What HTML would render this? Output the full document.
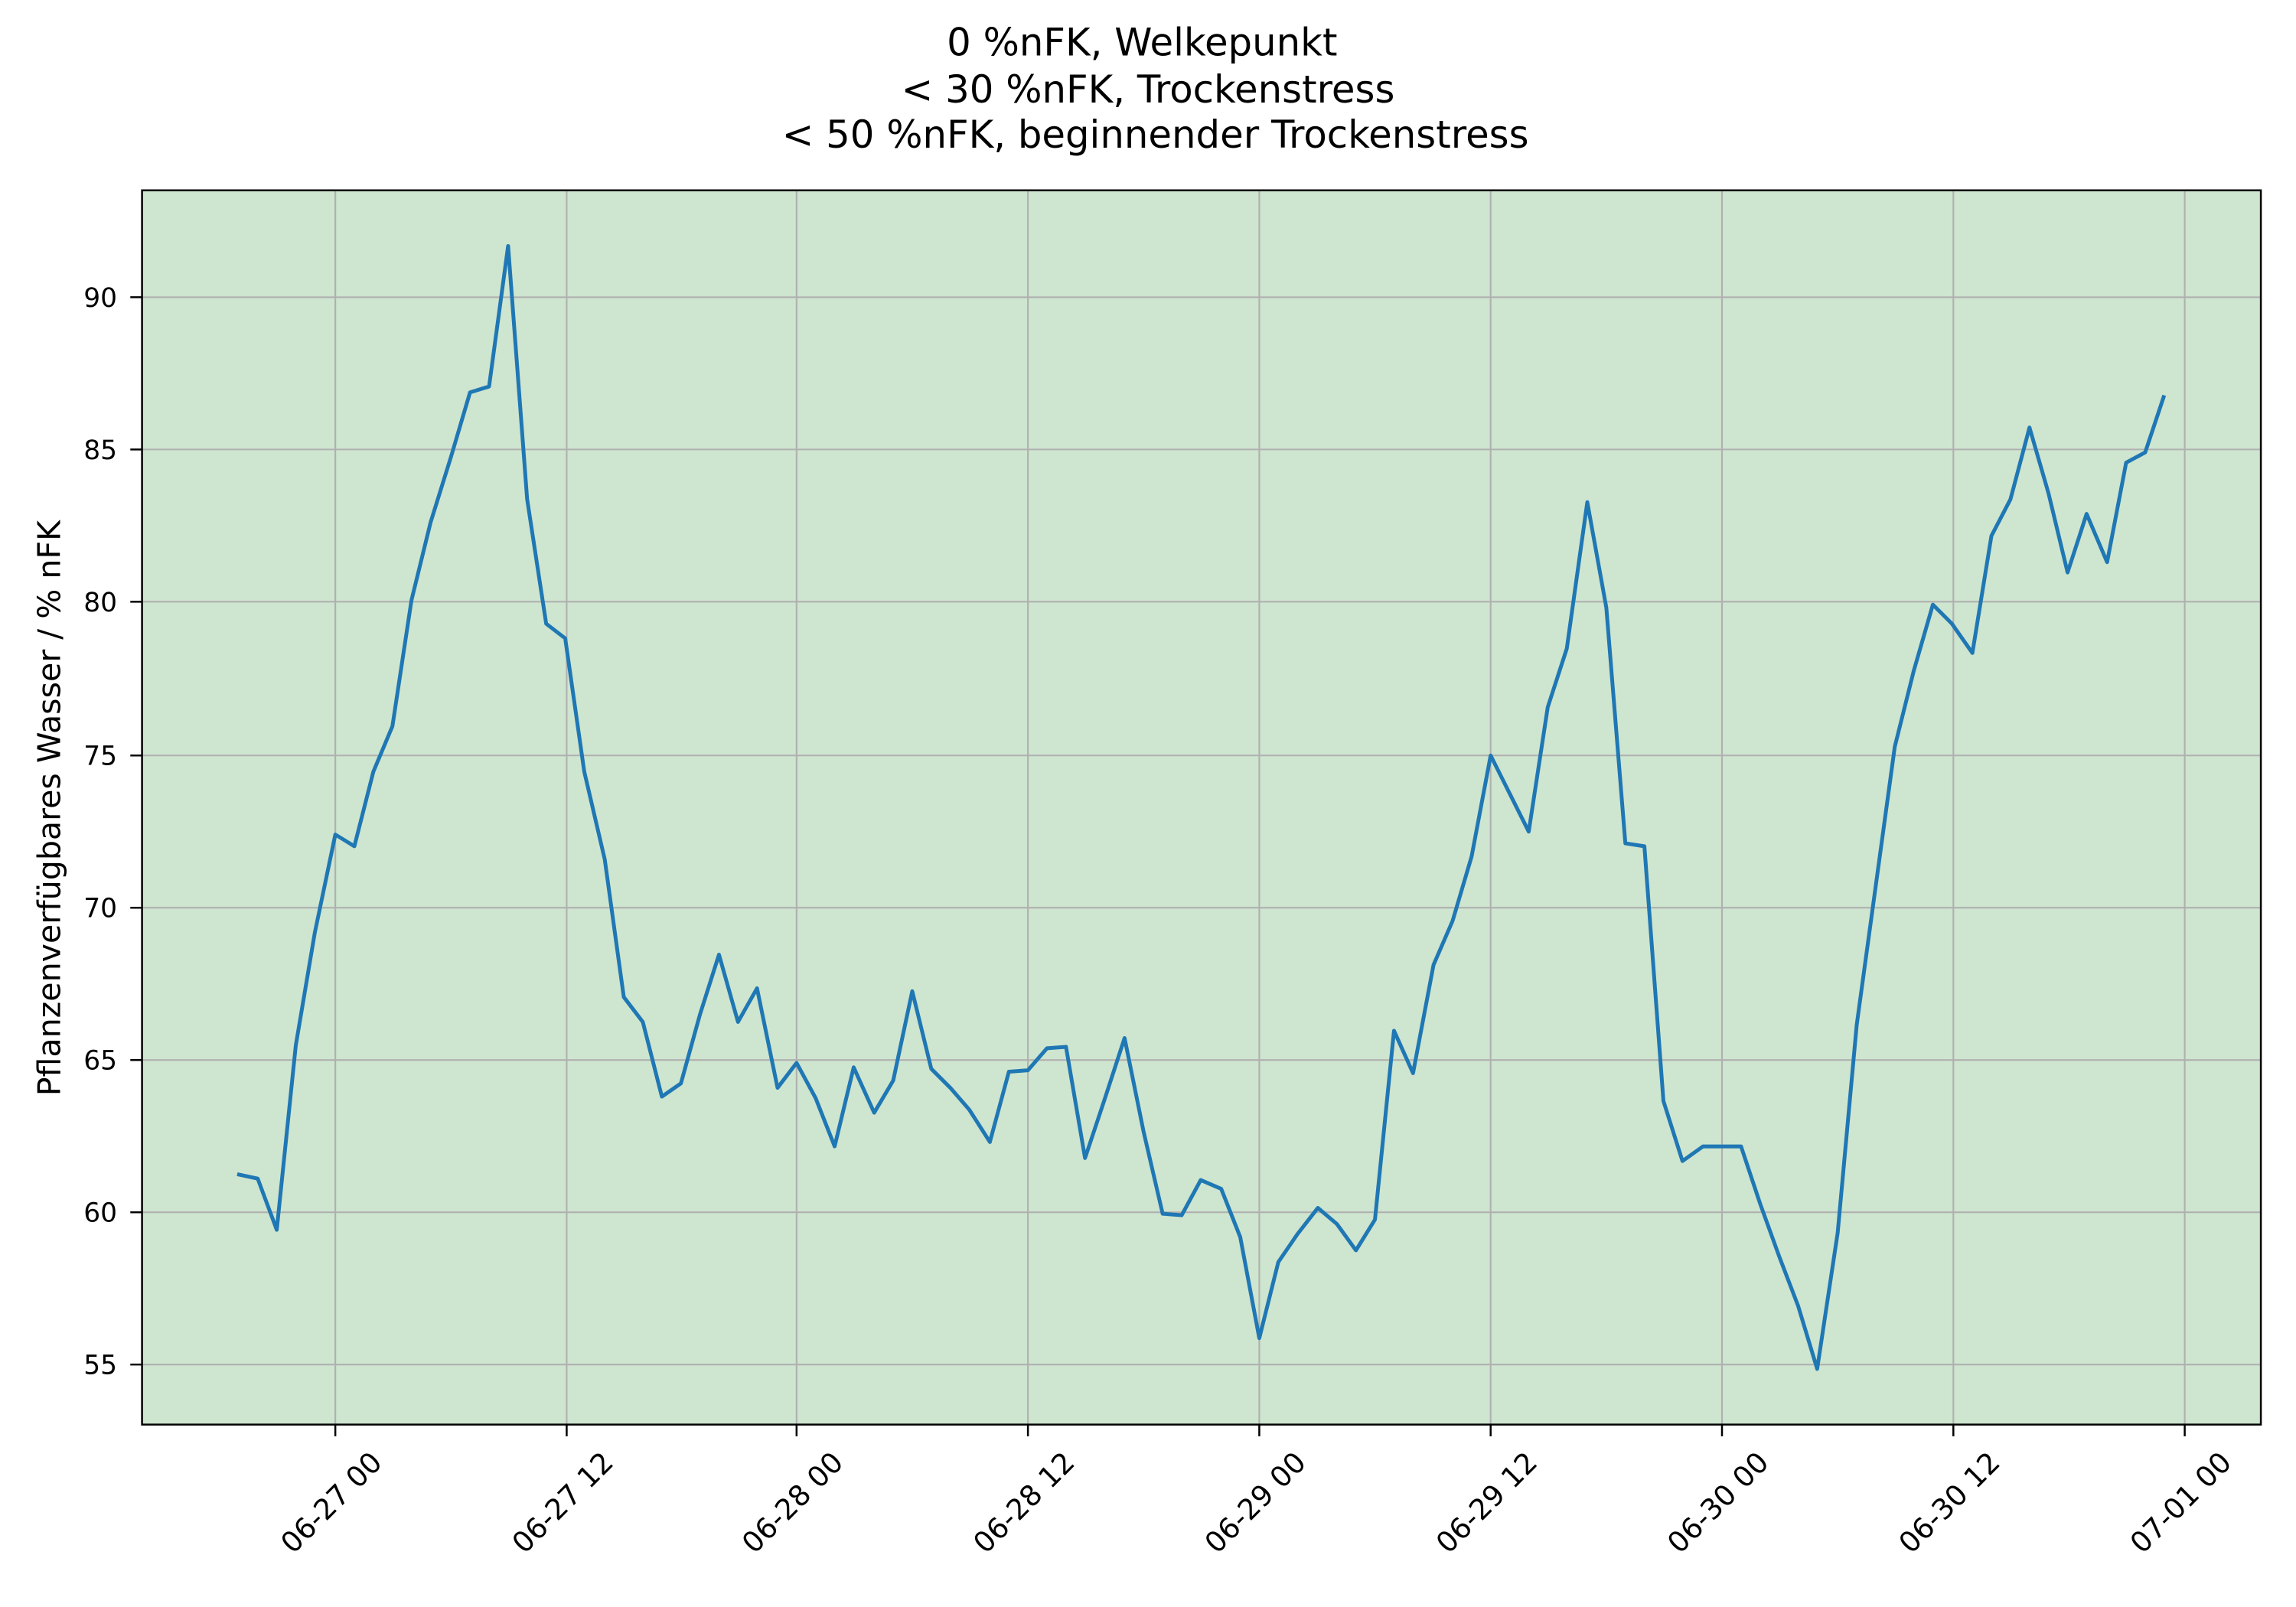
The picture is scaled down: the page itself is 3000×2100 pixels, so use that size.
<!DOCTYPE html>
<html><head><meta charset="utf-8"><style>
html,body{margin:0;padding:0;background:#fff}
svg{display:block}
text{font-family:"DejaVu Sans","Liberation Sans",sans-serif;fill:#000}
</style></head><body>
<svg width="3000" height="2100" viewBox="0 0 1568 1097.6" preserveAspectRatio="none" xmlns="http://www.w3.org/2000/svg">
<rect x="0" y="0" width="1568" height="1098" fill="#fff"/>
<rect x="97" y="130" width="1447" height="843" fill="#cee5cf"/>
<g stroke="#b0b0b0" stroke-width="1.1">
<line x1="229" y1="130" x2="229" y2="973"/><line x1="387" y1="130" x2="387" y2="973"/><line x1="544" y1="130" x2="544" y2="973"/><line x1="702" y1="130" x2="702" y2="973"/><line x1="860" y1="130" x2="860" y2="973"/><line x1="1018" y1="130" x2="1018" y2="973"/><line x1="1176" y1="130" x2="1176" y2="973"/><line x1="1334" y1="130" x2="1334" y2="973"/><line x1="1492" y1="130" x2="1492" y2="973"/>
<line x1="97" y1="203" x2="1544" y2="203"/><line x1="97" y1="307" x2="1544" y2="307"/><line x1="97" y1="411" x2="1544" y2="411"/><line x1="97" y1="516" x2="1544" y2="516"/><line x1="97" y1="620" x2="1544" y2="620"/><line x1="97" y1="724" x2="1544" y2="724"/><line x1="97" y1="828" x2="1544" y2="828"/><line x1="97" y1="932" x2="1544" y2="932"/>
</g>
<polyline fill="none" stroke="#1f77b4" stroke-width="2.6" stroke-linejoin="round" points="162,802 176,805 189,840 202,714 215,637 229,570 242,578 255,527 268,496 281,410 294,357 308,312 321,268 334,264 347,168 360,341 373,426 386,436 399,527 413,587 426,681 439,698 452,749 465,740 478,693 491,652 504,698 517,675 531,743 544,726 557,750 570,783 583,729 597,760 610,738 623,677 636,730 649,743 662,758 676,780 689,732 702,731 715,716 728,715 741,791 754,752 768,709 781,773 794,829 807,830 820,806 834,812 847,845 860,914 873,862 886,843 900,825 913,836 926,854 939,833 952,704 965,733 979,659 992,629 1005,585 1018,516 1031,542 1044,568 1057,483 1070,443 1084,343 1097,415 1110,576 1123,578 1136,752 1149,793 1163,783 1176,783 1189,783 1202,822 1215,858 1228,892 1241,935 1255,842 1268,700 1281,605 1294,510 1307,458 1320,413 1333,426 1347,446 1360,366 1373,341 1386,292 1399,337 1412,391 1425,351 1439,384 1452,316 1465,309 1478,270"/>
<rect x="97" y="130" width="1447" height="843" fill="none" stroke="#000" stroke-width="1.3"/>
<g stroke="#000" stroke-width="1.3">
<line x1="229" y1="973" x2="229" y2="981"/><line x1="387" y1="973" x2="387" y2="981"/><line x1="544" y1="973" x2="544" y2="981"/><line x1="702" y1="973" x2="702" y2="981"/><line x1="860" y1="973" x2="860" y2="981"/><line x1="1018" y1="973" x2="1018" y2="981"/><line x1="1176" y1="973" x2="1176" y2="981"/><line x1="1334" y1="973" x2="1334" y2="981"/><line x1="1492" y1="973" x2="1492" y2="981"/>
<line x1="89" y1="203" x2="97" y2="203"/><line x1="89" y1="307" x2="97" y2="307"/><line x1="89" y1="411" x2="97" y2="411"/><line x1="89" y1="516" x2="97" y2="516"/><line x1="89" y1="620" x2="97" y2="620"/><line x1="89" y1="724" x2="97" y2="724"/><line x1="89" y1="828" x2="97" y2="828"/><line x1="89" y1="932" x2="97" y2="932"/>
</g>
<g font-size="18" text-anchor="end">
<text x="80" y="209.5">90</text><text x="80" y="313.5">85</text><text x="80" y="417.5">80</text><text x="80" y="522.5">75</text><text x="80" y="626.5">70</text><text x="80" y="730.5">65</text><text x="80" y="834.5">60</text><text x="80" y="938.5">55</text>
</g>
<g font-size="19.5" text-anchor="end">
<text transform="translate(262,1000) rotate(-45)">06-27 00</text>
<text transform="translate(420,1000) rotate(-45)">06-27 12</text>
<text transform="translate(577,1000) rotate(-45)">06-28 00</text>
<text transform="translate(735,1000) rotate(-45)">06-28 12</text>
<text transform="translate(893,1000) rotate(-45)">06-29 00</text>
<text transform="translate(1051,1000) rotate(-45)">06-29 12</text>
<text transform="translate(1209,1000) rotate(-45)">06-30 00</text>
<text transform="translate(1367,1000) rotate(-45)">06-30 12</text>
<text transform="translate(1525,1000) rotate(-45)">07-01 00</text>
</g>
<text font-size="21.5" text-anchor="middle" transform="translate(41,552) rotate(-90)">Pflanzenverfügbares Wasser / % nFK</text>
<g font-size="26" text-anchor="middle">
<text x="780" y="38">0 %nFK, Welkepunkt</text>
<text x="784" y="70">&lt; 30 %nFK, Trockenstress</text>
<text x="789" y="101">&lt; 50 %nFK, beginnender Trockenstress</text>
</g>
</svg>
</body></html>
